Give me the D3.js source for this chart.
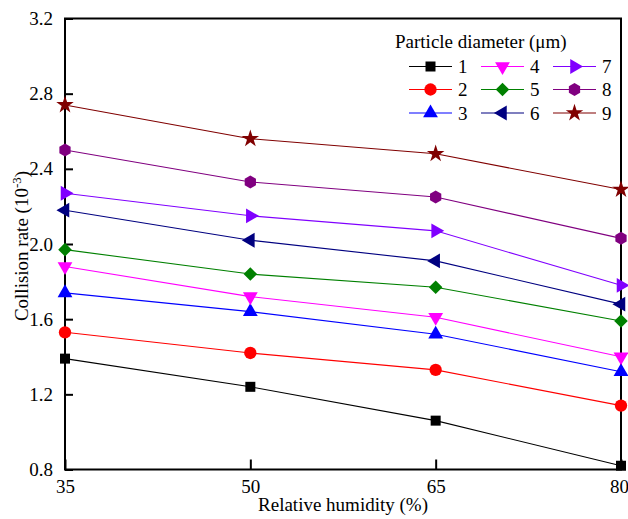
<!DOCTYPE html>
<html>
<head>
<meta charset="utf-8">
<script src="https://cdn.jsdelivr.net/npm/d3@7"></script>
<style>
  html, body { margin: 0; padding: 0; background: #fff; }
  svg { display: block; }
  text { font-family: "Liberation Serif", "Times New Roman", serif; fill: #000; }
</style>
</head>
<body>
<svg id="chart" width="628" height="519"></svg>
<script>
// Relative humidity levels (%)
const humidity = [35, 50, 65, 80];
// Particle diameters (µm), one series per diameter
const diameters = ["1", "2", "3", "4", "5", "6", "7", "8", "9"];
// Collision rate (10^-3) for each diameter at each humidity
const rate1 = [1.39, 1.24, 1.06, 0.82];
const rate2 = [1.53, 1.42, 1.33, 1.14];
const rate3 = [1.74, 1.64, 1.52, 1.32];
const rate4 = [1.88, 1.72, 1.61, 1.40];
const rate5 = [1.97, 1.84, 1.77, 1.59];
const rate6 = [2.18, 2.02, 1.91, 1.68];
const rate7 = [2.27, 2.15, 2.07, 1.78];
const rate8 = [2.50, 2.33, 2.25, 2.03];
const rate9 = [2.74, 2.56, 2.48, 2.29];
const yTicks = [0.8, 1.2, 1.6, 2.0, 2.4, 2.8, 3.2];

const rates = [rate1, rate2, rate3, rate4, rate5, rate6, rate7, rate8, rate9];
const colors = ["#000000", "#ff0000", "#0000ff", "#ff00ff", "#008000",
                "#000080", "#8000ff", "#800080", "#800000"];
const shapes = ["square", "circle", "triUp", "triDown", "diamond",
                "triLeft", "triRight", "hexagon", "star"];

const svg = d3.select("#chart");
const plotLeft = 65, plotRight = 621, plotTop = 18.5, plotBottom = 469.5;

const x = d3.scaleLinear().domain([35, 80]).range([plotLeft, plotRight]);
const y = d3.scaleLinear().domain([0.8, 3.2]).range([plotBottom, plotTop]);

// Marker path generator for each series shape
function markerPath(shape) {
  const tri = d3.symbol().type(d3.symbolTriangle).size(95)();
  switch (shape) {
    case "square": return { d: d3.symbol().type(d3.symbolSquare).size(100)(), rot: 0 };
    case "circle": return { d: d3.symbol().type(d3.symbolCircle).size(120)(), rot: 0 };
    case "triUp": return { d: tri, rot: 0 };
    case "triDown": return { d: tri, rot: 180 };
    case "triLeft": return { d: tri, rot: -90 };
    case "triRight": return { d: tri, rot: 90 };
    case "diamond": return { d: d3.symbol().type(d3.symbolSquare).size(92)(), rot: 45 };
    case "star": return { d: d3.symbol().type(d3.symbolStar).size(95)(), rot: 0 };
    case "hexagon": {
      const r = 6.5;
      const pts = d3.range(6).map(i => {
        const a = Math.PI / 3 * i - Math.PI / 2;
        return [r * Math.cos(a), r * Math.sin(a)];
      });
      return { d: "M" + pts.map(p => p.join(",")).join("L") + "Z", rot: 0 };
    }
  }
}

// Axes frame
const axisG = svg.append("g");
axisG.append("rect")
  .attr("x", plotLeft).attr("y", plotTop)
  .attr("width", plotRight - plotLeft).attr("height", plotBottom - plotTop)
  .attr("fill", "none").attr("stroke", "#000").attr("stroke-width", 2);

// Y axis: inward ticks, labels on the left
const yAxis = d3.axisLeft(y).tickValues(yTicks).tickSize(-8).tickPadding(12)
  .tickFormat(d3.format(".1f"));
const yg = axisG.append("g").attr("transform", `translate(${plotLeft},0)`).call(yAxis);
yg.attr("font-family", null);
yg.select(".domain").remove();
yg.selectAll(".tick line").attr("stroke", "#000").attr("stroke-width", 2);
yg.selectAll(".tick text").style("font-family", "'Liberation Serif', serif").style("font-size", "19px");

// X axis: inward ticks, labels below
const xAxis = d3.axisBottom(x).tickValues(humidity).tickSize(-10).tickPadding(10)
  .tickFormat(d3.format("d"));
const xg = axisG.append("g").attr("transform", `translate(0,${plotBottom})`).call(xAxis);
xg.attr("font-family", null);
xg.select(".domain").remove();
xg.selectAll(".tick line").attr("stroke", "#000").attr("stroke-width", 2);
xg.selectAll(".tick text").style("font-family", "'Liberation Serif', serif").style("font-size", "19px")
  .attr("dx", d => d === 80 ? -2 : 0);

// Axis titles
svg.append("text")
  .attr("x", (plotLeft + plotRight) / 2).attr("y", 511)
  .attr("text-anchor", "middle").style("font-size", "19px")
  .text("Relative humidity (%)");

const yt = svg.append("text")
  .attr("transform", `translate(28,${(plotTop + plotBottom) / 2 + 2}) rotate(-90)`)
  .attr("text-anchor", "middle").style("font-size", "19px");
yt.append("tspan").text("Collision rate (10");
yt.append("tspan").attr("dy", -7).style("font-size", "13px").text("-3");
yt.append("tspan").attr("dy", 7).text(")");

// Series lines
const line = d3.line().x((d, i) => x(humidity[i])).y(d => y(d));
const seriesG = svg.append("g");
rates.forEach((vals, s) => {
  seriesG.append("path")
    .attr("d", line(vals))
    .attr("fill", "none").attr("stroke", colors[s]).attr("stroke-width", 1.1);
});

// Series markers
rates.forEach((vals, s) => {
  const m = markerPath(shapes[s]);
  seriesG.selectAll(null).data(vals).enter().append("path")
    .attr("d", m.d)
    .attr("transform", (d, i) => `translate(${x(humidity[i])},${y(d)}) rotate(${m.rot})`)
    .attr("fill", colors[s]);
});

// Legend
const lg = svg.append("g");
lg.append("text").attr("x", 395).attr("y", 48).style("font-size", "19px")
  .text("Particle diameter (\u03bcm)");
const colX = [409, 481, 553];
const rowY = [66.5, 89.5, 113];
diameters.forEach((name, s) => {
  const c = Math.floor(s / 3), r = s % 3;
  const x0 = colX[c], yy = rowY[r];
  lg.append("line").attr("x1", x0).attr("x2", x0 + 43).attr("y1", yy).attr("y2", yy)
    .attr("stroke", colors[s]).attr("stroke-width", 1.1);
  const m = markerPath(shapes[s]);
  lg.append("path").attr("d", m.d)
    .attr("transform", `translate(${x0 + 21.5},${yy}) rotate(${m.rot})`)
    .attr("fill", colors[s]);
  lg.append("text").attr("x", x0 + 49).attr("y", yy + 6.5)
    .style("font-size", "19px").text(name);
});
</script>
</body>
</html>
